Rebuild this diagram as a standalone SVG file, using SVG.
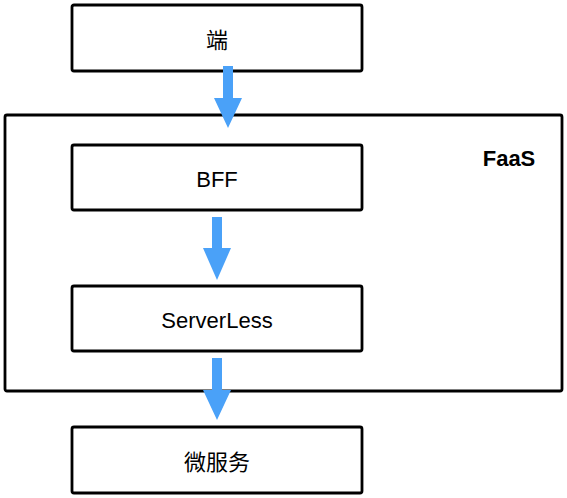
<svg xmlns="http://www.w3.org/2000/svg" width="567" height="498" viewBox="0 0 567 498">
<style>
.box{fill:#fff;stroke:#000;stroke-width:2.8;stroke-linejoin:round}
.frame{fill:none;stroke:#000;stroke-width:2.8;stroke-linejoin:round}
.lbl{font-family:"Liberation Sans","Noto Sans CJK SC",sans-serif;font-size:22px;fill:#000;text-anchor:middle}
.bold{font-weight:bold}
.arr{fill:#4aa1f8}
</style>
<g id="faas">
<rect class="frame" x="5" y="115" width="557" height="276" rx="2"/>
<text class="lbl bold" x="509" y="166">FaaS</text>
</g>
<g id="node-duan">
<rect class="box" x="72" y="5" width="290" height="66" rx="2"/>
<text class="lbl" x="217" y="48" font-size="20">端</text>
</g>
<g id="node-bff">
<rect class="box" x="72" y="145" width="290" height="65" rx="2"/>
<text class="lbl" x="217" y="187">BFF</text>
</g>
<g id="node-serverless">
<rect class="box" x="72" y="286" width="290" height="65" rx="2"/>
<text class="lbl" x="217" y="328">ServerLess</text>
</g>
<g id="node-micro">
<rect class="box" x="72" y="427" width="290" height="66" rx="2"/>
<text class="lbl" x="217" y="470" font-size="21">微服务</text>
</g>
<g id="connectors">
<path class="arr" d="M223 66 H233 V98 H242 L228 128 L214 98 H223 Z"/>
<path class="arr" d="M212 217 H222 V248 H231 L217 280 L203 248 H212 Z"/>
<path class="arr" d="M212 358 H222 V390 H231 L217 420 L203 390 H212 Z"/>
</g>
</svg>
